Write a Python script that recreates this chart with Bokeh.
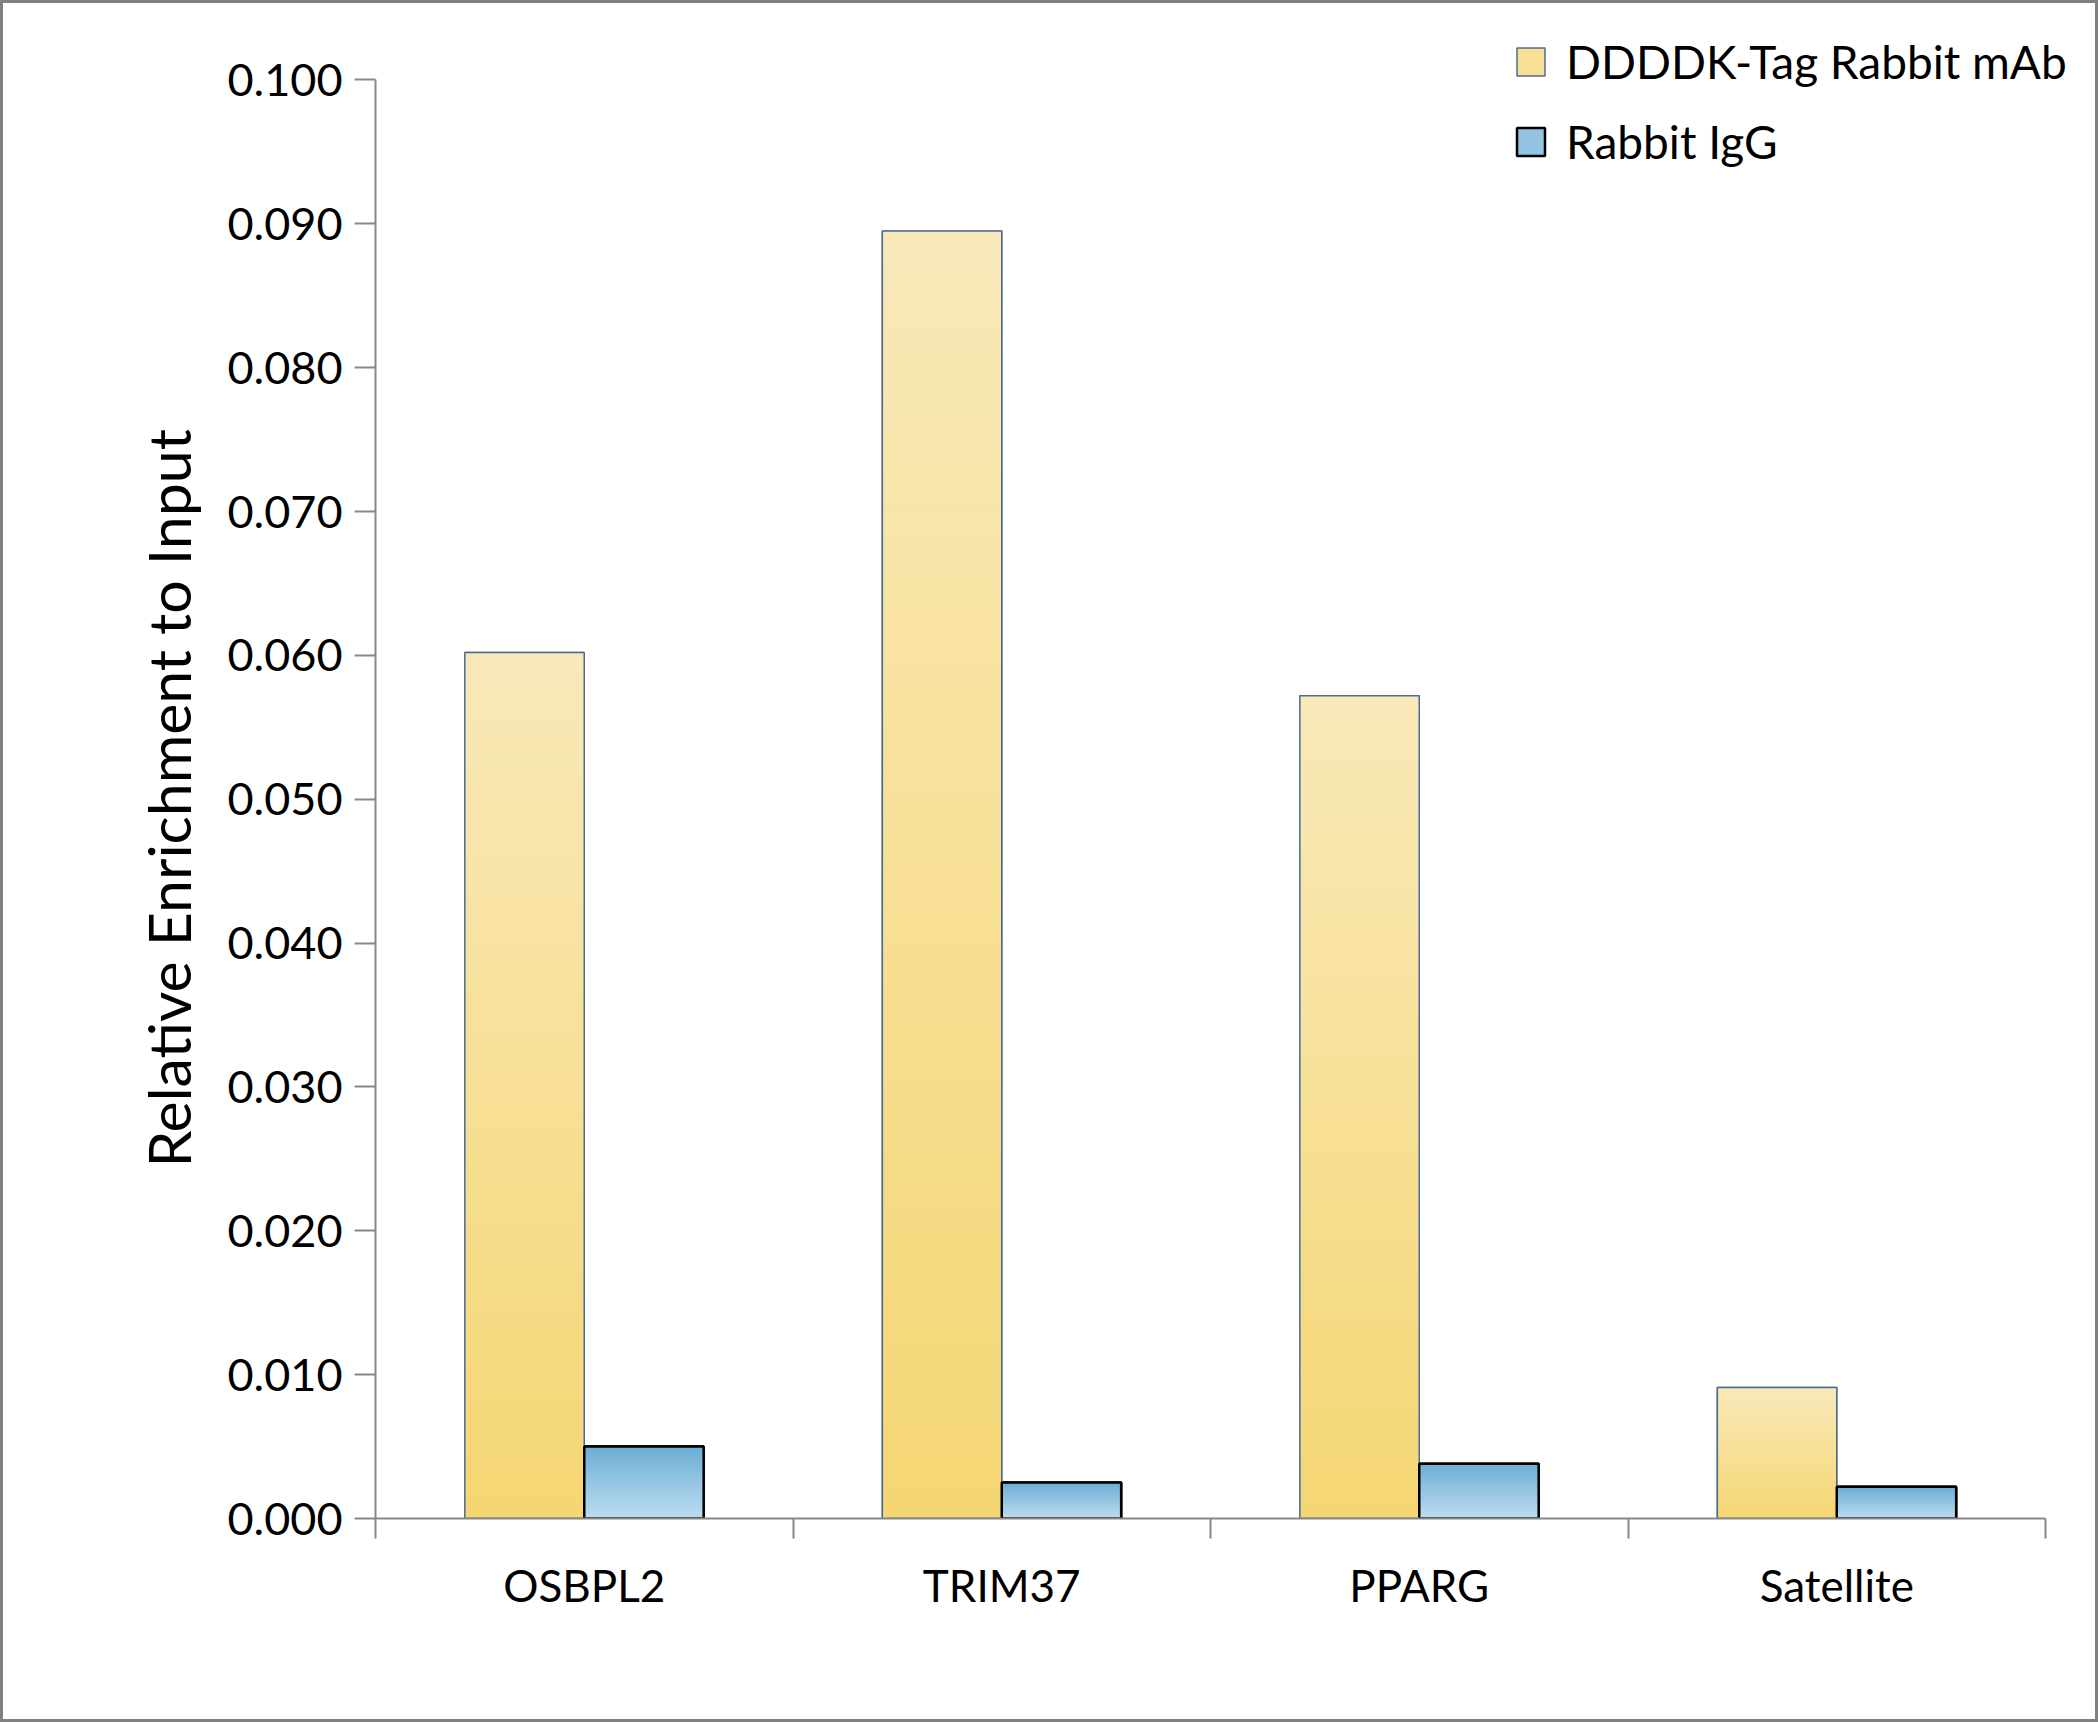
from bokeh.plotting import figure
from bokeh.models import (Range1d, LinearAxis, FixedTicker, NumeralTickFormatter,
                          Legend, LegendItem, ColumnDataSource, Title)
from bokeh.embed import file_html
from bokeh.resources import INLINE

# ---- data -------------------------------------------------------------
targets = ["OSBPL2", "TRIM37", "PPARG", "Satellite"]
ddddk_mab = [0.0602, 0.0895, 0.0572, 0.0091]
rabbit_igg = [0.0050, 0.0025, 0.0038, 0.0022]
series_names = ["DDDDK-Tag Rabbit mAb", "Rabbit IgG"]
y_ticks = [0.000, 0.010, 0.020, 0.030, 0.040, 0.050, 0.060, 0.070, 0.080, 0.090, 0.100]
y_title = "Relative Enrichment to Input"

# ---- styling ----------------------------------------------------------
FONT = "Lato"
AXIS_GREY = "#888888"
BAR_W = 0.286
MAB_TOP, MAB_BOTTOM, MAB_MID = "#F9E9B9", "#F5D673", "#F7DF94"
IGG_TOP, IGG_BOTTOM, IGG_MID = "#6EAFD6", "#BEDDF0", "#93C4E2"
MAB_EDGE, IGG_EDGE = "#4C6C94", "#000000"
N_STEPS = 80


def _rgb(h):
    h = h.lstrip("#")
    return tuple(int(h[i:i + 2], 16) for i in (0, 2, 4))


def _mix(c_bottom, c_top, t):
    a, b = _rgb(c_bottom), _rgb(c_top)
    return "#%02x%02x%02x" % tuple(round(a[j] + (b[j] - a[j]) * t) for j in range(3))


def gradient_source(values, offset, c_top, c_bottom):
    """Split every bar into thin horizontal bands shaded bottom-to-top."""
    d = dict(left=[], right=[], bottom=[], top=[], color=[])
    for i, v in enumerate(values):
        centre = i + 0.5 + offset
        for k in range(N_STEPS):
            d["left"].append(centre - BAR_W / 2)
            d["right"].append(centre + BAR_W / 2)
            d["bottom"].append(v * k / N_STEPS)
            d["top"].append(v * (k + 1) / N_STEPS)
            d["color"].append(_mix(c_bottom, c_top, (k + 0.5) / N_STEPS))
    return ColumnDataSource(d)


x_pos = [i + 0.5 for i in range(len(targets))]
src = ColumnDataSource(dict(
    x_mab=[x - BAR_W / 2 for x in x_pos],
    x_igg=[x + BAR_W / 2 for x in x_pos],
    mab=ddddk_mab,
    igg=rabbit_igg,
))

# plot area reaches above the 0.100 tick so the legend fits inside it
p = figure(
    output_backend="svg", toolbar_location=None,
    frame_width=1705, frame_height=1498,
    min_border_left=372, min_border_right=15, min_border_top=17, min_border_bottom=201,
    x_range=Range1d(0, 4.0838), y_range=Range1d(0, 0.104136),
    x_axis_type=None, y_axis_type=None,
)
p.outline_line_color = None
p.xgrid.visible = False
p.ygrid.visible = False
p.background_fill_color = "white"
p.border_fill_color = "white"
p.styles = {"border": "3px solid #808080"}

# solid base bars (also used for the legend swatches)
base_mab = p.vbar(x="x_mab", top="mab", width=BAR_W, source=src,
                  fill_color=MAB_MID, line_color=MAB_EDGE, line_width=1.5)
base_igg = p.vbar(x="x_igg", top="igg", width=BAR_W, source=src,
                  fill_color=IGG_MID, line_color=IGG_EDGE, line_width=2.5)

# vertical shading
for vals, off, ct, cb in [(ddddk_mab, -BAR_W / 2, MAB_TOP, MAB_BOTTOM),
                          (rabbit_igg, BAR_W / 2, IGG_TOP, IGG_BOTTOM)]:
    p.quad(left="left", right="right", bottom="bottom", top="top",
           source=gradient_source(vals, off, ct, cb),
           fill_color="color", line_color="color", line_width=1)

# bar edges on top
p.vbar(x="x_mab", top="mab", width=BAR_W, source=src,
       fill_alpha=0, line_color=MAB_EDGE, line_width=1.5)
p.vbar(x="x_igg", top="igg", width=BAR_W, source=src,
       fill_alpha=0, line_color=IGG_EDGE, line_width=2.5)

# ---- axes -------------------------------------------------------------
yax = LinearAxis(
    ticker=FixedTicker(ticks=y_ticks), formatter=NumeralTickFormatter(format="0.000"),
    bounds=(0, 0.1),
)
yax.axis_line_color = AXIS_GREY
yax.axis_line_width = 2
yax.major_tick_line_color = AXIS_GREY
yax.major_tick_line_width = 2
yax.major_tick_in = 0
yax.major_tick_out = 21
yax.minor_tick_line_color = None
yax.major_label_standoff = 12
yax.major_label_text_font = FONT
yax.major_label_text_font_size = "45px"
yax.major_label_text_color = "black"
p.add_layout(yax, "left")

# axis title, centred on the 0.000-0.100 span rather than on the whole plot area
p.add_layout(Title(text=y_title, align="left", offset=351, standoff=42,
                   text_font=FONT, text_font_size="59px", text_font_style="normal",
                   text_color="black"), "left")

# category names centred under each group; tick marks sit on the group boundaries
xax = LinearAxis(
    ticker=FixedTicker(ticks=x_pos, minor_ticks=list(range(len(targets) + 1))),
    bounds=(0, len(targets)),
    major_label_overrides={x: t for x, t in zip(x_pos, targets)},
)
xax.axis_line_color = AXIS_GREY
xax.axis_line_width = 2
xax.major_tick_line_color = None
xax.major_tick_in = 0
xax.major_tick_out = 20
xax.minor_tick_line_color = AXIS_GREY
xax.minor_tick_line_width = 2
xax.minor_tick_in = 0
xax.minor_tick_out = 20
xax.major_label_standoff = 20
xax.major_label_text_font = FONT
xax.major_label_text_font_size = "44px"
xax.major_label_text_color = "black"
p.add_layout(xax, "below")

# ---- legend -----------------------------------------------------------
legend = Legend(
    items=[LegendItem(label=series_names[0], renderers=[base_mab]),
           LegendItem(label=series_names[1], renderers=[base_igg])],
    location=(1138, 1349),
    glyph_width=35, glyph_height=35, label_standoff=18, spacing=25,
    padding=0, margin=0, border_line_color=None, background_fill_alpha=0,
    label_text_font=FONT, label_text_font_size="46px", label_text_color="black",
)
p.add_layout(legend)

open("out.html", "w").write(file_html(p, INLINE))
